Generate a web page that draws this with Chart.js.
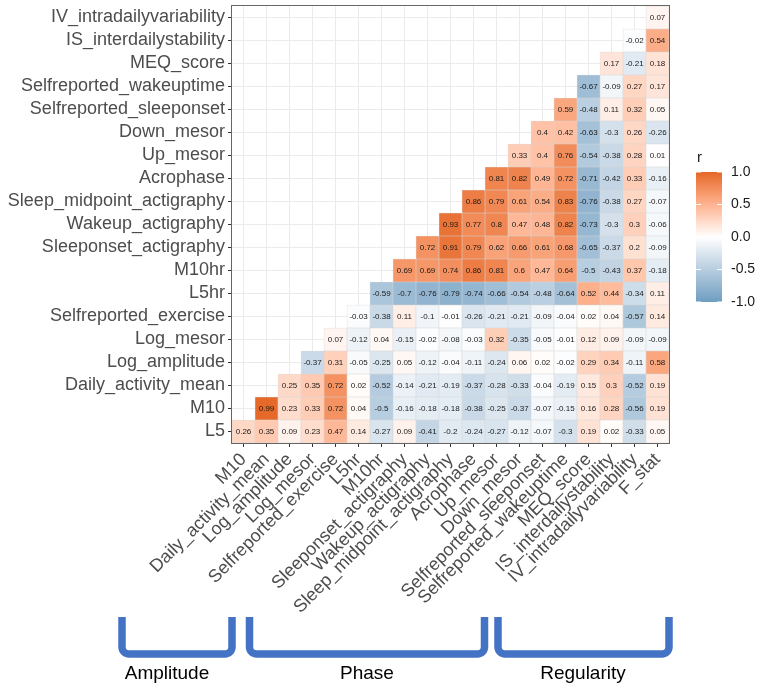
<!DOCTYPE html>
<html>
<head>
<meta charset="utf-8">
<script src="https://cdn.jsdelivr.net/npm/chart.js@4.4.1/dist/chart.umd.min.js"></script>
<style>
  body { margin: 0; background: #fff; }
  canvas { display: block; }
</style>
</head>
<body>
<canvas id="corr-chart" width="759" height="690"></canvas>
<script>
const rowLabels = ['L5', 'M10', 'Daily_activity_mean', 'Log_amplitude', 'Log_mesor',
  'Selfreported_exercise', 'L5hr', 'M10hr', 'Sleeponset_actigraphy', 'Wakeup_actigraphy',
  'Sleep_midpoint_actigraphy', 'Acrophase', 'Up_mesor', 'Down_mesor', 'Selfreported_sleeponset',
  'Selfreported_wakeuptime', 'MEQ_score', 'IS_interdailystability', 'IV_intradailyvariability'];

const colLabels = ['M10', 'Daily_activity_mean', 'Log_amplitude', 'Log_mesor', 'Selfreported_exercise',
  'L5hr', 'M10hr', 'Sleeponset_actigraphy', 'Wakeup_actigraphy', 'Sleep_midpoint_actigraphy',
  'Acrophase', 'Up_mesor', 'Down_mesor', 'Selfreported_sleeponset', 'Selfreported_wakeuptime',
  'MEQ_score', 'IS_interdailystability', 'IV_intradailyvariability', 'F_stat'];

// row N starts at column N (lower triangle)
const rL5 = [0.26, 0.35, 0.09, 0.23, 0.47, 0.14, -0.27, 0.09, -0.41, -0.2, -0.24, -0.27, -0.12, -0.07, -0.3, 0.19, 0.02, -0.33, 0.05];
const rM10 = [0.99, 0.23, 0.33, 0.72, 0.04, -0.5, -0.16, -0.18, -0.18, -0.38, -0.25, -0.37, -0.07, -0.15, 0.16, 0.28, -0.56, 0.19];
const rDailyMean = [0.25, 0.35, 0.72, 0.02, -0.52, -0.14, -0.21, -0.19, -0.37, -0.28, -0.33, -0.04, -0.19, 0.15, 0.3, -0.52, 0.19];
const rLogAmp = [-0.37, 0.31, -0.05, -0.25, 0.05, -0.12, -0.04, -0.11, -0.24, 0.06, 0.02, -0.02, 0.29, 0.34, -0.11, 0.58];
const rLogMesor = [0.07, -0.12, 0.04, -0.15, -0.02, -0.08, -0.03, 0.32, -0.35, -0.05, -0.01, 0.12, 0.09, -0.09, -0.09];
const rExercise = [-0.03, -0.38, 0.11, -0.1, -0.01, -0.26, -0.21, -0.21, -0.09, -0.04, 0.02, 0.04, -0.57, 0.14];
const rL5hr = [-0.59, -0.7, -0.76, -0.79, -0.74, -0.66, -0.54, -0.48, -0.64, 0.52, 0.44, -0.34, 0.11];
const rM10hr = [0.69, 0.69, 0.74, 0.86, 0.81, 0.6, 0.47, 0.64, -0.5, -0.43, 0.37, -0.18];
const rSleeponset = [0.72, 0.91, 0.79, 0.62, 0.66, 0.61, 0.68, -0.65, -0.37, 0.2, -0.09];
const rWakeup = [0.93, 0.77, 0.8, 0.47, 0.48, 0.82, -0.73, -0.3, 0.3, -0.06];
const rMidpoint = [0.86, 0.79, 0.61, 0.54, 0.83, -0.76, -0.38, 0.27, -0.07];
const rAcrophase = [0.81, 0.82, 0.49, 0.72, -0.71, -0.42, 0.33, -0.16];
const rUpMesor = [0.33, 0.4, 0.76, -0.54, -0.38, 0.28, 0.01];
const rDownMesor = [0.4, 0.42, -0.63, -0.3, 0.26, -0.26];
const rSrSleeponset = [0.59, -0.48, 0.11, 0.32, 0.05];
const rSrWakeup = [-0.67, -0.09, 0.27, 0.17];
const rMEQ = [0.17, -0.21, 0.18];
const rIS = [-0.02, 0.54];
const rIV = [0.07];

const legendTicks = [1, 0.5, 0, -0.5, -1];
const groupNames = ['Amplitude', 'Phase', 'Regularity'];

const rows = [rL5, rM10, rDailyMean, rLogAmp, rLogMesor, rExercise, rL5hr, rM10hr, rSleeponset,
  rWakeup, rMidpoint, rAcrophase, rUpMesor, rDownMesor, rSrSleeponset, rSrWakeup, rMEQ, rIS, rIV];

const FONT = '"Liberation Sans", Arial, sans-serif';

// gradient2 low/mid/high, mixed in Lab like ggplot
function toLinear(c) { c /= 255; return c <= 0.04045 ? c / 12.92 : Math.pow((c + 0.055) / 1.055, 2.4); }
function fromLinear(c) {
  const v = c <= 0.0031308 ? 12.92 * c : 1.055 * Math.pow(c, 1 / 2.4) - 0.055;
  return Math.round(Math.min(1, Math.max(0, v)) * 255);
}
function hexToLab(hex) {
  const n = parseInt(hex.slice(1), 16);
  const r = toLinear(n >> 16 & 255), g = toLinear(n >> 8 & 255), b = toLinear(n & 255);
  const x = (0.4124 * r + 0.3576 * g + 0.1805 * b) / 0.95047;
  const y = 0.2126 * r + 0.7152 * g + 0.0722 * b;
  const z = (0.0193 * r + 0.1192 * g + 0.9505 * b) / 1.08883;
  const f = t => t > 0.008856 ? Math.cbrt(t) : 7.787 * t + 16 / 116;
  return [116 * f(y) - 16, 500 * (f(x) - f(y)), 200 * (f(y) - f(z))];
}
function labToRgb([L, a, b]) {
  const fy = (L + 16) / 116, fx = fy + a / 500, fz = fy - b / 200;
  const inv = t => t ** 3 > 0.008856 ? t ** 3 : (t - 16 / 116) / 7.787;
  const x = inv(fx) * 0.95047, y = inv(fy), z = inv(fz) * 1.08883;
  const r = 3.2406 * x - 1.5372 * y - 0.4986 * z;
  const g = -0.9689 * x + 1.8758 * y + 0.0415 * z;
  const bl = 0.0557 * x - 0.2040 * y + 1.0570 * z;
  return `rgb(${fromLinear(r)},${fromLinear(g)},${fromLinear(bl)})`;
}
const LOW = hexToLab('#6D9EC1'), MID = hexToLab('#FFFFFF'), HIGH = hexToLab('#E46726');

function fillFor(v) {
  if (v == null) return 'transparent';
  const t = Math.min(1, Math.abs(v));
  const end = v < 0 ? LOW : HIGH;
  return labToRgb(MID.map((m, i) => m + (end[i] - m) * t));
}

const datasets = rows.map((vals, r) => ({
  label: rowLabels[r],
  data: colLabels.map((_, c) => c < r ? null : [r - 0.5, r + 0.5]),
  corr: colLabels.map((_, c) => c < r ? null : vals[c - r]),
  backgroundColor: ctx => fillFor(ctx.dataset.corr[ctx.dataIndex]),
  borderColor: 'rgba(190,190,190,0.55)',
  borderWidth: 0.6,
  borderSkipped: false,
  grouped: false,
  barPercentage: 1,
  categoryPercentage: 1
}));

const cellText = {
  id: 'cellText',
  afterDatasetsDraw(chart) {
    const { ctx, chartArea: a } = chart;
    ctx.save();
    ctx.font = '8px ' + FONT;
    ctx.fillStyle = '#1a1a1a';
    ctx.textAlign = 'center';
    ctx.textBaseline = 'middle';
    chart.data.datasets.forEach((ds, i) => {
      chart.getDatasetMeta(i).data.forEach((bar, j) => {
        const v = ds.corr[j];
        if (v == null) return;
        ctx.fillText(String(v), bar.x, (bar.y + bar.base) / 2 + 0.5);
      });
    });
    // panel border
    ctx.strokeStyle = '#666';
    ctx.lineWidth = 1;
    ctx.strokeRect(a.left - 0.5, a.top - 0.5, a.right - a.left + 1, a.bottom - a.top + 1);
    ctx.restore();
  }
};

const colourLegend = {
  id: 'colourLegend',
  afterDraw(chart) {
    const { ctx, chartArea: a } = chart;
    const x = a.right + 27, w = 26, top = 172, bottom = 302;
    ctx.save();
    ctx.fillStyle = '#1a1a1a';
    ctx.font = '15px ' + FONT;
    ctx.textBaseline = 'middle';
    ctx.fillText('r', x + 1, 158);

    const grad = ctx.createLinearGradient(0, top, 0, bottom);
    for (let s = 0; s <= 20; s++) grad.addColorStop(s / 20, fillFor(1 - s / 10));
    ctx.fillStyle = grad;
    ctx.fillRect(x, top, w, bottom - top);

    ctx.font = '14px ' + FONT;
    legendTicks.forEach(t => {
      const y = top + (1 - t) / 2 * (bottom - top);
      ctx.strokeStyle = '#fff';
      ctx.lineWidth = 1;
      ctx.beginPath();
      ctx.moveTo(x, y); ctx.lineTo(x + 5, y);
      ctx.moveTo(x + w - 5, y); ctx.lineTo(x + w, y);
      ctx.stroke();
      ctx.fillStyle = '#1a1a1a';
      ctx.fillText(t.toFixed(1), x + 35, y);
    });
    ctx.restore();
  }
};

const groupBrackets = {
  id: 'groupBrackets',
  afterDraw(chart) {
    const { ctx } = chart;
    // [left, right, text centre] in pixels for each bracket
    const spans = [[122, 232, 167], [249.5, 484.5, 367], [498, 669, 583]];
    ctx.save();
    ctx.strokeStyle = '#4472C4';
    ctx.lineWidth = 7.5;
    ctx.lineJoin = 'round';
    ctx.lineCap = 'butt';
    spans.forEach(([l, r]) => {
      const top = 617, bot = 654, rad = 7;
      ctx.beginPath();
      ctx.moveTo(l, top);
      ctx.arcTo(l, bot, l + rad, bot, rad);
      ctx.arcTo(r, bot, r, bot - rad, rad);
      ctx.lineTo(r, top);
      ctx.stroke();
    });
    ctx.fillStyle = '#000';
    ctx.font = '19px ' + FONT;
    ctx.textAlign = 'center';
    ctx.textBaseline = 'alphabetic';
    groupNames.forEach((name, i) => ctx.fillText(name, spans[i][2], 679));
    ctx.restore();
  }
};

new Chart(document.getElementById('corr-chart'), {
  type: 'bar',
  data: { labels: colLabels, datasets },
  options: {
    responsive: false,
    animation: false,
    layout: { padding: { top: 6, right: 90, left: 0, bottom: 0 } },
    plugins: { legend: { display: false }, tooltip: { enabled: false } },
    scales: {
      x: {
        offset: true,
        grid: { offset: false, color: '#ebebeb', tickColor: '#333', tickLength: 4 },
        border: { display: false },
        ticks: {
          autoSkip: false, maxRotation: 45, minRotation: 45, padding: 2,
          color: '#4d4d4d', font: { family: FONT, size: 18 }
        },
        afterFit: s => { s.height = 247; s.paddingLeft = 0; s.paddingRight = 0; }
      },
      y: {
        type: 'linear',
        min: -0.5,
        max: 18.5,
        afterBuildTicks: s => { s.ticks = rowLabels.map((_, i) => ({ value: i })); },
        grid: { color: '#ebebeb', tickColor: '#333', tickLength: 4 },
        border: { display: false },
        ticks: {
          autoSkip: false, padding: 3, color: '#4d4d4d', font: { family: FONT, size: 18 },
          callback: v => rowLabels[v]
        },
        afterFit: s => { s.width = 232; s.paddingTop = 0; s.paddingBottom = 0; }
      }
    }
  },
  plugins: [cellText, colourLegend, groupBrackets]
});
</script>
</body>
</html>
